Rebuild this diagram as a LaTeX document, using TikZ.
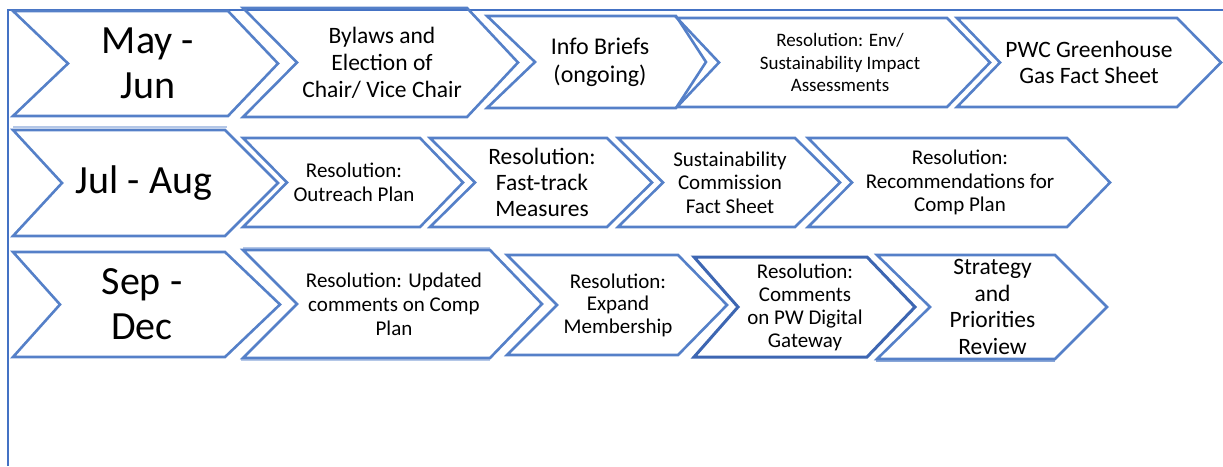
\documentclass[tikz,border=0pt]{standalone}
\usepackage{fontspec}
\setmainfont{Carlito}
\usepackage{tikz}

\definecolor{chevblue}{HTML}{5580C8}
\definecolor{darkchev}{HTML}{3D66B2}
\definecolor{frameblue}{HTML}{4472C4}
\definecolor{shadeblue}{HTML}{B4C7E7}

\newcommand{\bigfont}{\fontsize{40}{45}\selectfont}
\newcommand{\midfont}{\fontsize{23.5}{27}\selectfont}
\newcommand{\smallfont}{\fontsize{21}{24}\selectfont}
\newcommand{\tinyfont}{\fontsize{19}{22.5}\selectfont}

% chevron: left, notch, top right, tip, top, bottom
\newcommand{\chev}[7][chevline]{%
  \draw[#1] (#2,#6) -- (#4,#6) -- (#5,{(#6+#7)/2}) -- (#4,#7) -- (#2,#7) -- (#3,{(#6+#7)/2}) -- cycle;}

\begin{document}
\begin{tikzpicture}[x=1pt,y=-1pt,
    chevline/.style={draw=chevblue,line width=2.6pt},
    darkline/.style={draw=darkchev,line width=3pt},
    chevtext/.style={align=center,inner sep=0pt}]
  \useasboundingbox (0,0) rectangle (1223,466);
  \draw[frameblue,line width=1.8pt] (8,466) -- (8,10) -- (1223,10);
  \draw[shadeblue,line width=2pt] (13,127) -- (227,127);
  \draw[shadeblue,line width=2pt] (243,248) -- (490,248);
  \draw[shadeblue,line width=2pt] (241,360) -- (490,360);
  \draw[chevblue!70,line width=2pt] (876,361) -- (1055,361);

  % May - Jun
  \chev{13}{68}{228}{278}{11}{116}
  \node[chevtext,font=\bigfont] (mayjun) at (148,63.5) {May -\\Jun};
  \chev{243}{297}{467}{518}{8}{117}
  \node[chevtext,font=\midfont] (bylaws) at (382,62.5) {Bylaws and\\Election of\\Chair/ Vice Chair};
  \chev{487}{535}{676}{706}{16}{108}
  \node[chevtext,font=\fontsize{24}{28}\selectfont] (briefs) at (600,62) {Info Briefs\\(ongoing)};
  \chev{677}{719}{947}{990}{18}{107}
  \node[chevtext,font=\tinyfont] (envres) at (840,62.5) {Resolution: Env/\\Sustainability Impact\\Assessments};
  \chev{957}{1000}{1177}{1221}{18}{107}
  \node[chevtext,font=\fontsize{23.5}{26}\selectfont] (ghgsheet) at (1089,62.5) {PWC Greenhouse\\Gas Fact Sheet};

  % Jul - Aug
  \chev{13}{62}{225}{278}{130}{236}
  \node[chevtext,font=\bigfont] (julaug) at (144,183) {Jul - Aug};
  \chev{243}{287}{420}{463}{138}{227}
  \node[chevtext,font=\smallfont] (outreach) at (354,182.5) {Resolution:\\Outreach Plan};
  \chev{430}{475}{607}{652}{138}{227}
  \node[chevtext,font=\fontsize{23.5}{26}\selectfont] (fasttrack) at (542,182.5) {Resolution:\\Fast-track\\Measures};
  \chev{618}{663}{795}{840}{138}{227}
  \node[chevtext,font=\fontsize{21}{23.5}\selectfont] (commsheet) at (730,182.5) {Sustainability\\Commission\\Fact Sheet};
  \chev{808}{852}{1067}{1110}{138}{227}
  \node[chevtext,font=\fontsize{21}{23.5}\selectfont] (recomm) at (960,182.5) {Resolution:\\Recommendations for\\Comp Plan};

  % Sep - Dec
  \chev{13}{60}{225}{280}{252}{357}
  \node[chevtext,font=\bigfont] (sepdec) at (142,304.5) {Sep -\\Dec};
  \chev{243}{297}{490}{542}{250}{358}
  \node[chevtext,font=\smallfont] (updated) at (394,304) {Resolution: Updated\\comments on Comp\\Plan};
  \chev{507}{557}{678}{727}{255}{355}
  \node[chevtext,font=\fontsize{21}{22.5}\selectfont] (expand) at (618,305) {Resolution:\\Expand\\Membership};
  \chev[darkline]{694}{738}{867}{915}{257}{357}
  \node[chevtext,font=\fontsize{21}{23}\selectfont] (gateway) at (805,307) {Resolution:\\Comments\\on PW Digital\\Gateway};
  \chev{877}{930}{1055}{1107}{255}{359}
  \node[chevtext,font=\fontsize{23.5}{26.5}\selectfont] (review) at (992.5,307) {Strategy\\and\\Priorities\\Review};
\end{tikzpicture}
\end{document}
